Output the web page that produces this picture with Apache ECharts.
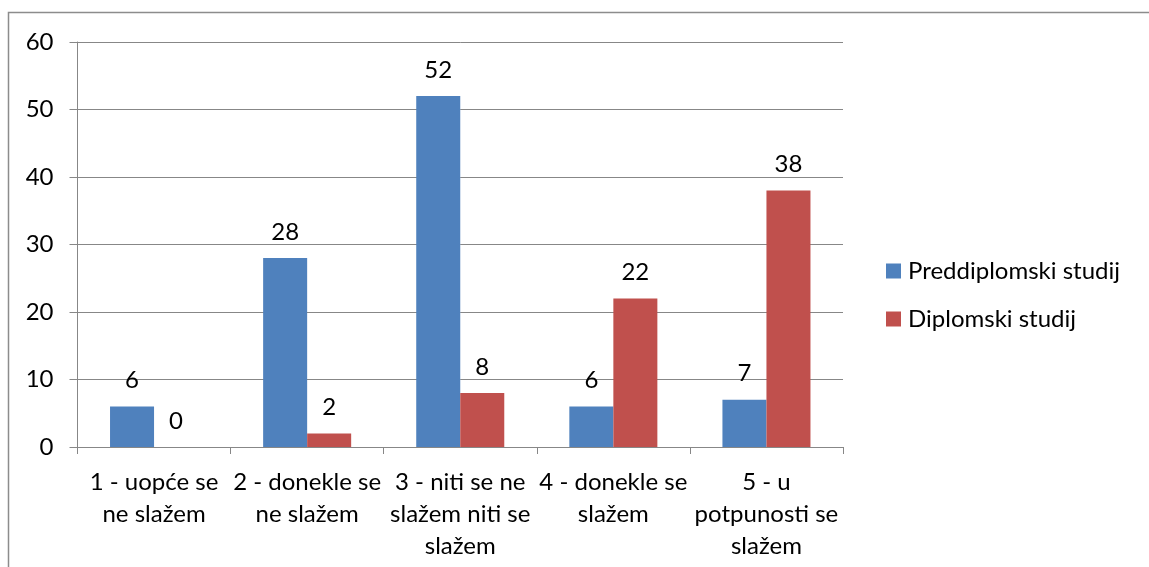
<!DOCTYPE html>
<html>
<head>
<meta charset="utf-8">
<style>
  html, body { margin: 0; padding: 0; background: #ffffff; }
  #chart { width: 1149px; height: 567px; }
</style>
<script src="https://cdn.jsdelivr.net/npm/echarts@6/dist/echarts.min.js"></script>
</head>
<body>
<div id="chart"></div>
<script>
// Answer categories (Likert scale) and counts per study level
const categories = [
  '1 - uopće se\nne slažem',
  '2 - donekle se\nne slažem',
  '3 - niti se ne\nslažem niti se\nslažem',
  '4 - donekle se\nslažem',
  '5 - u\npotpunosti se\nslažem'
];
const seriesNames = ['Preddiplomski studij', 'Diplomski studij'];
const preddiplomski = [6, 28, 52, 6, 7];
const diplomski = [0, 2, 8, 22, 38];
const yTicks = { min: 0, max: 60, interval: 10 };

const FONT = 'Lato';
const FS = 24;
const GRID = '#878787';

const chart = echarts.init(document.getElementById('chart'), null, { renderer: 'canvas' });

const barLabel = {
  show: true,
  position: 'top',
  distance: 14,
  color: '#000',
  fontFamily: FONT,
  fontSize: FS
};

chart.setOption({
  animation: false,
  backgroundColor: '#ffffff',
  textStyle: { fontFamily: FONT },
  graphic: [{
    type: 'rect',
    shape: { x: 8.5, y: 12.5, width: 1300, height: 700 },
    style: { fill: 'none', stroke: '#8c8c8c', lineWidth: 1.5 },
    silent: true,
    z: -1
  }],
  grid: { left: 77.5, right: 306, top: 42, bottom: 120, containLabel: false },
  legend: {
    orient: 'vertical',
    left: 886,
    top: 259,
    padding: 0,
    icon: 'rect',
    itemWidth: 15,
    itemHeight: 15,
    itemGap: 24,
    textStyle: { color: '#000', fontFamily: FONT, fontSize: FS, lineHeight: 24, padding: [0, 0, 0, 2] },
    data: seriesNames
  },
  xAxis: {
    type: 'category',
    data: categories,
    axisLine: { show: true, lineStyle: { color: GRID, width: 1 } },
    axisTick: { show: true, length: 7, lineStyle: { color: GRID } },
    axisLabel: {
      color: '#000',
      fontFamily: FONT,
      fontSize: FS,
      lineHeight: 32,
      margin: 19,
      interval: 0
    }
  },
  yAxis: {
    type: 'value',
    min: yTicks.min,
    max: yTicks.max,
    interval: yTicks.interval,
    axisLine: { show: true, lineStyle: { color: GRID, width: 1 } },
    axisTick: { show: true, length: 8, lineStyle: { color: GRID } },
    splitLine: { show: true, lineStyle: { color: GRID, width: 1 } },
    axisLabel: { color: '#000', fontFamily: FONT, fontSize: FS, margin: 24 }
  },
  series: [
    {
      name: seriesNames[0],
      type: 'bar',
      data: preddiplomski,
      barGap: '0%',
      barCategoryGap: '42.5%',
      itemStyle: { color: '#4f81bd' },
      label: barLabel
    },
    {
      name: seriesNames[1],
      type: 'bar',
      data: diplomski,
      barGap: '0%',
      barCategoryGap: '42.5%',
      itemStyle: { color: '#c0504d' },
      label: barLabel
    }
  ]
});
</script>
</body>
</html>
